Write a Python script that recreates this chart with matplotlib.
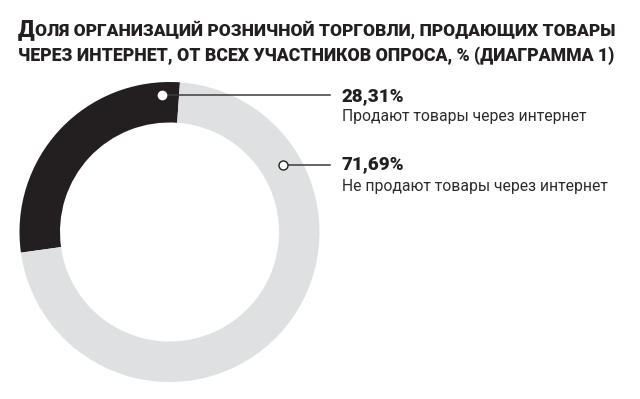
import matplotlib
matplotlib.use("Agg")
import matplotlib.pyplot as plt

# данные
labels = ["Продают товары через интернет", "Не продают товары через интернет"]
shares = [28.31, 71.69]
colors = ["#231f20", "#dfe0e1"]
title_first = "Д"
title_rest = ["ОЛЯ ОРГАНИЗАЦИЙ РОЗНИЧНОЙ ТОРГОВЛИ, ПРОДАЮЩИХ ТОВАРЫ",
              "ЧЕРЕЗ ИНТЕРНЕТ, ОТ ВСЕХ УЧАСТНИКОВ ОПРОСА, % (ДИАГРАММА 1)"]

W, H = 640, 399
fig = plt.figure(figsize=(W / 100, H / 100), dpi=100)

# кольцевая диаграмма: центр (169.5, 232), радиус 150 px
cx, cy, r = 169.5, 232, 150
ax = fig.add_axes([(cx - r) / W, (H - cy - r) / H, 2 * r / W, 2 * r / H])
ax.pie(shares, colors=colors, startangle=86, counterclock=True, radius=1,
       wedgeprops=dict(width=0.27, edgecolor="none"))
ax.set_xlim(-1, 1)
ax.set_ylim(-1, 1)
ax.axis("off")


def px(x, y):
    return (x - cx) / r, (cy - y) / r


# выноски
markers = [(162, 95), (283, 165)]
line_end = 330
for i, (mx, my) in enumerate(markers):
    x0, y0 = px(mx, my)
    x1, _ = px(line_end, my)
    ax.plot([x0, x1], [y0, y0], color="#3c3c3c", lw=1.1, clip_on=False, zorder=3)
    ax.plot(x0, y0, "o", ms=6.5 if i else 6, mfc="white",
            mec="#231f20" if i else "white", mew=1.0, clip_on=False, zorder=4)

# подписи
txt_x = 342 / W
num_y = [96, 164]
sub_y = [117, 187]
for i in range(len(shares)):
    pct = f"{shares[i]:.2f}".replace(".", ",") + "%"
    fig.text(txt_x, 1 - num_y[i] / H, pct, fontsize=13.5, fontweight="heavy",
             family="Roboto", color="#231f20", va="center", ha="left")
    fig.text(txt_x, 1 - sub_y[i] / H, labels[i], fontsize=11.3, fontweight="normal",
             family="Roboto", color="#2b2b2b", va="center", ha="left")

# заголовок (капитель), подгоняем ширину строки под 594 px
fig.canvas.draw()
rend = fig.canvas.get_renderer()
tfam = "Roboto"
base_y = [36, 61]
x_start, target_w = 18, 594
for i, line in enumerate(title_rest):
    size = 12.0
    texts = []
    for _ in range(4):
        for t in texts:
            t.remove()
        texts = []
        x = x_start
        if i == 0:
            t0 = fig.text(x / W, 1 - base_y[i] / H, title_first, fontsize=size * 1.3,
                          fontweight="heavy", family=tfam, color="#231f20",
                          va="baseline", ha="left")
            x += t0.get_window_extent(rend).width
            texts.append(t0)
        t1 = fig.text(x / W, 1 - base_y[i] / H, line, fontsize=size, fontweight="heavy",
                      family=tfam, color="#231f20", va="baseline", ha="left")
        texts.append(t1)
        w = t1.get_window_extent(rend).x1 - x_start
        size *= target_w / w

fig.savefig("out.png", dpi=100)
